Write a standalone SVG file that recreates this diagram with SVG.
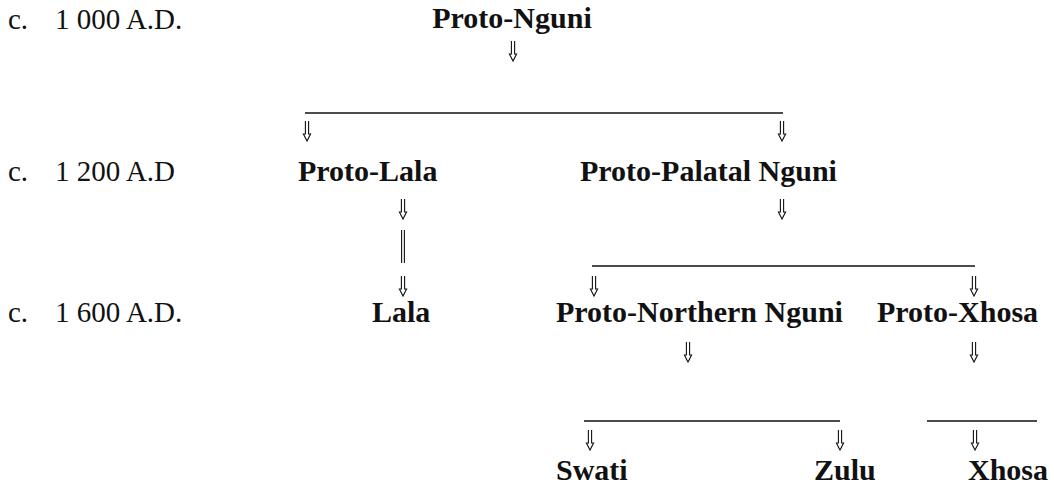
<svg xmlns="http://www.w3.org/2000/svg" xmlns:xlink="http://www.w3.org/1999/xlink" width="1054" height="496" viewBox="0 0 1054 496">
<style>
.lbl{font-family:"Liberation Serif","Times New Roman",serif;font-size:29px;fill:#111}
.nd{font-family:"Liberation Serif","Times New Roman",serif;font-size:30px;font-weight:bold;fill:#111}
.ln{stroke:#111;stroke-width:1.6;fill:none}
.ar{stroke:#111;stroke-width:1.1;fill:none}
</style>
<defs>
<path id="arr" class="ar" d="M-1.6,0 V13 L-3.6,13 L0,20 L3.6,13 L1.6,13 V0"/>
</defs>
<rect width="1054" height="496" fill="#fff"/>
<g id="dates">
<text class="lbl" x="8" y="29">c.</text><text class="lbl" x="55" y="29">1 000 A.D.</text>
<text class="lbl" x="8" y="181">c.</text><text class="lbl" x="55" y="181">1 200 A.D</text>
<text class="lbl" x="8" y="322">c.</text><text class="lbl" x="55" y="322">1 600 A.D.</text>
</g>
<g id="proto-nguni"><text class="nd" x="512" y="28" text-anchor="middle">Proto-Nguni</text></g>
<g id="proto-lala"><text class="nd" x="298" y="181">Proto-Lala</text></g>
<g id="proto-palatal-nguni"><text class="nd" x="580" y="181">Proto-Palatal Nguni</text></g>
<g id="lala"><text class="nd" x="372" y="322">Lala</text></g>
<g id="proto-northern-nguni"><text class="nd" x="556" y="322">Proto-Northern Nguni</text></g>
<g id="proto-xhosa"><text class="nd" x="877" y="322">Proto-Xhosa</text></g>
<g id="swati"><text class="nd" x="556" y="480">Swati</text></g>
<g id="zulu"><text class="nd" x="814" y="480">Zulu</text></g>
<g id="xhosa"><text class="nd" x="968" y="480">Xhosa</text></g>
<g id="connectors">
<use xlink:href="#arr" x="513" y="41"/>
<line class="ln" x1="305" y1="113" x2="783" y2="113"/>
<use xlink:href="#arr" x="307" y="121"/>
<use xlink:href="#arr" x="782" y="121"/>
<use xlink:href="#arr" x="403" y="199"/>
<use xlink:href="#arr" x="782" y="199"/>
<line class="ar" x1="401.6" y1="230" x2="401.6" y2="263"/>
<line class="ar" x1="404.4" y1="230" x2="404.4" y2="263"/>
<line class="ln" x1="592" y1="266" x2="975" y2="266"/>
<use xlink:href="#arr" x="403" y="276"/>
<use xlink:href="#arr" x="594" y="276"/>
<use xlink:href="#arr" x="974" y="276"/>
<use xlink:href="#arr" x="688" y="342"/>
<use xlink:href="#arr" x="974" y="342"/>
<line class="ln" x1="584" y1="421" x2="840" y2="421"/>
<line class="ln" x1="927" y1="421" x2="1037" y2="421"/>
<use xlink:href="#arr" x="590" y="430"/>
<use xlink:href="#arr" x="840" y="430"/>
<use xlink:href="#arr" x="975" y="430"/>
</g>
</svg>
